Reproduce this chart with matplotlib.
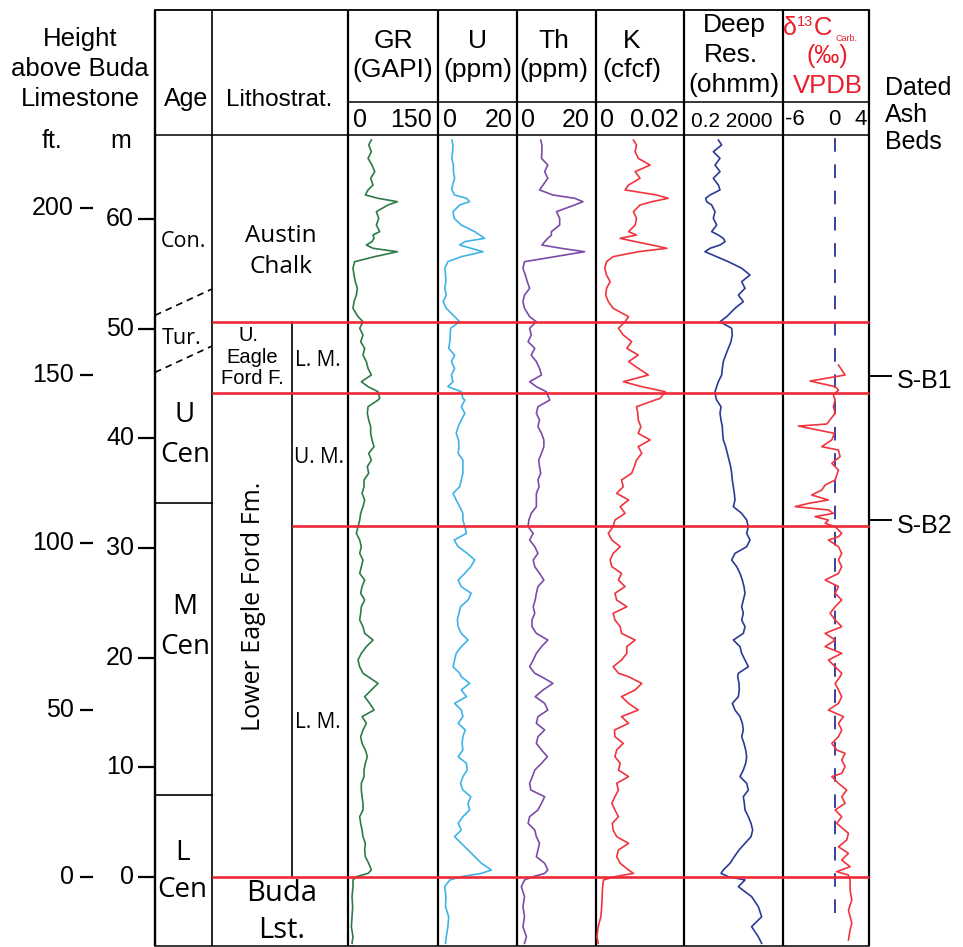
import matplotlib
matplotlib.use("Agg")
import matplotlib.pyplot as plt

# ---------------------------------------------------------------------------
# Log data: height above the Buda Limestone (m) and the curve values
# ---------------------------------------------------------------------------
depth_m = [
    67.18, 66.73, 66.12, 65.51, 64.90, 64.30, 63.69, 63.08, 62.63, 62.17,
    61.87, 61.56, 61.26, 60.65, 60.04, 59.43, 58.83, 58.52, 58.22, 57.92,
    57.61, 57.31, 57.00, 56.55, 56.09, 55.49, 54.88, 54.27, 53.66, 53.05,
    52.45, 51.84, 51.08, 50.62, 50.02, 49.41, 48.80, 48.19, 47.58, 46.98,
    46.37, 45.76, 45.15, 44.70, 44.24, 43.63,
    43.48, 42.87, 42.27, 41.66, 41.05, 40.44, 39.84, 39.23, 38.62, 38.01,
    37.40, 36.80, 36.19, 35.58, 34.97, 34.37, 33.76, 33.15, 32.54, 31.94,
    31.33, 30.72, 30.11, 29.50, 28.90, 28.29, 27.68, 27.07, 26.47, 25.86,
    25.25, 24.64, 24.04, 23.43, 22.82, 22.21, 21.60, 21.00, 20.39, 19.78,
    19.17, 18.57,
    18.26, 17.65, 17.05, 16.44, 15.83, 15.22, 14.62, 14.01, 13.40, 12.79,
    12.18, 11.58, 10.97, 10.36, 9.75, 9.15, 8.54, 7.93, 7.32, 6.72,
    6.11, 5.50, 4.89, 4.28, 3.68, 3.07, 2.46, 1.85, 1.25, 0.64,
    0.33, 0.03, -0.27, -0.88, -1.79, -2.70, -3.62, -4.53, -5.44, -6.05,
]

gr_gapi = [
    38.9, 34.5, 38.9, 33.4, 40.0, 44.5, 37.8, 41.7, 33.4, 28.9,
    50.0, 82.3, 66.7, 47.3, 51.2, 47.3, 52.8, 41.7, 43.4, 40.0,
    30.6, 41.7, 82.3, 44.5, 11.1, 8.3, 10.0, 12.2, 15.6, 13.9,
    10.0, 8.3, 16.7, 25.0, 19.5, 25.0, 21.1, 27.8, 25.0, 30.6,
    33.4, 38.9, 22.2, 33.4, 50.0, 52.8,
    50.0, 33.4, 32.2, 34.5, 37.8, 37.8, 40.0, 43.4, 34.5, 38.9,
    32.2, 34.5, 26.7, 26.7, 23.4, 27.8, 25.0, 21.1, 19.5, 16.7,
    13.9, 19.5, 22.2, 19.5, 25.0, 22.2, 19.5, 27.8, 23.4, 21.1,
    27.8, 22.2, 21.1, 19.5, 25.0, 27.8, 41.7, 30.6, 22.2, 16.7,
    19.5, 25.0,
    33.4, 50.0, 38.9, 27.8, 36.1, 43.4, 23.4, 30.6, 25.0, 21.1,
    23.4, 28.9, 32.2, 28.9, 26.7, 26.7, 22.2, 22.2, 23.4, 25.0,
    25.0, 19.5, 21.1, 23.4, 25.0, 28.9, 27.8, 28.9, 34.5, 38.9,
    33.4, 13.9, 8.3, 8.3, 6.7, 7.8, 6.7, 5.6, 8.3, 6.7,
]

u_ppm = [
    3.5, 3.8, 3.7, 3.5, 3.9, 3.9, 4.2, 3.7, 3.5, 4.2,
    7.2, 8.0, 5.5, 3.8, 4.1, 5.9, 9.3, 10.6, 11.8, 6.8,
    5.5, 8.4, 11.4, 5.9, 2.5, 1.7, 1.9, 2.0, 1.7, 2.1,
    1.3, 2.1, 4.2, 5.5, 3.2, 3.1, 3.0, 2.7, 4.2, 3.4,
    4.2, 3.4, 3.8, 2.5, 5.9, 6.3,
    6.8, 5.9, 6.8, 5.9, 5.1, 4.6, 5.2, 5.3, 5.1, 6.3,
    6.3, 6.3, 5.9, 5.5, 3.8, 4.6, 5.5, 6.3, 6.3, 6.8,
    7.2, 4.1, 5.1, 7.4, 9.3, 8.3, 6.8, 5.1, 5.9, 8.4,
    7.6, 5.7, 5.3, 4.9, 5.1, 5.9, 7.6, 5.9, 4.6, 4.2,
    3.8, 5.5,
    5.9, 8.0, 5.9, 7.2, 4.2, 5.9, 6.3, 5.1, 6.9, 6.3,
    6.1, 6.3, 5.1, 7.2, 7.4, 6.3, 5.7, 6.3, 8.3, 7.6,
    8.0, 6.3, 5.1, 5.9, 4.2, 5.9, 7.6, 9.3, 11.0, 13.5,
    11.0, 5.9, 3.0, 1.7, 2.0, 1.9, 2.7, 2.5, 2.1, 1.9,
]

th_ppm = [
    6.0, 6.3, 6.3, 6.2, 7.8, 7.0, 7.8, 6.6, 5.7, 9.1,
    14.6, 16.7, 14.6, 10.0, 10.8, 10.8, 8.7, 8.7, 7.8, 7.0,
    6.3, 11.2, 17.1, 9.5, 1.9, 1.5, 2.1, 2.6, 3.2, 1.9,
    1.5, 1.9, 3.2, 4.9, 3.2, 3.6, 2.8, 4.5, 3.6, 4.9,
    5.7, 6.2, 3.2, 4.9, 7.4, 8.1,
    8.3, 5.3, 4.9, 5.7, 5.3, 6.2, 6.8, 6.8, 6.2, 5.5,
    5.7, 6.0, 5.3, 5.6, 4.9, 4.9, 4.9, 3.6, 3.0, 2.8,
    4.1, 3.2, 4.5, 5.3, 4.1, 4.5, 5.7, 6.8, 5.3, 4.9,
    4.6, 4.1, 4.5, 3.8, 3.8, 4.9, 7.8, 6.2, 4.9, 4.1,
    3.2, 4.5,
    6.2, 9.1, 6.6, 4.6, 7.0, 7.8, 5.3, 4.9, 7.0, 5.3,
    4.9, 6.2, 7.7, 6.2, 4.5, 3.9, 3.2, 3.5, 7.0, 6.2,
    5.3, 3.2, 2.8, 4.5, 4.9, 5.7, 5.3, 4.9, 7.0, 7.8,
    7.0, 4.1, 1.9, 1.1, 1.9, 1.5, 1.9, 1.5, 2.4, 1.9,
]

k_cfcf = [
    0.0085, 0.0092, 0.0089, 0.0096, 0.0123, 0.0089, 0.0100, 0.0074, 0.0066, 0.0138,
    0.0164, 0.0127, 0.0100, 0.0085, 0.0092, 0.0089, 0.0074, 0.0092, 0.0055, 0.0089,
    0.0127, 0.0161, 0.0096, 0.0039, 0.0024, 0.0020, 0.0024, 0.0032, 0.0024, 0.0022,
    0.0028, 0.0039, 0.0074, 0.0066, 0.0051, 0.0062, 0.0081, 0.0070, 0.0096, 0.0074,
    0.0096, 0.0119, 0.0062, 0.0104, 0.0157, 0.0146,
    0.0134, 0.0092, 0.0095, 0.0096, 0.0102, 0.0096, 0.0123, 0.0096, 0.0104, 0.0092,
    0.0087, 0.0081, 0.0058, 0.0062, 0.0047, 0.0074, 0.0055, 0.0066, 0.0043, 0.0039,
    0.0028, 0.0036, 0.0055, 0.0039, 0.0032, 0.0036, 0.0058, 0.0051, 0.0066, 0.0043,
    0.0047, 0.0070, 0.0039, 0.0043, 0.0055, 0.0058, 0.0089, 0.0070, 0.0070, 0.0058,
    0.0039, 0.0051,
    0.0074, 0.0104, 0.0089, 0.0058, 0.0074, 0.0096, 0.0058, 0.0074, 0.0042, 0.0043,
    0.0062, 0.0047, 0.0043, 0.0055, 0.0051, 0.0074, 0.0047, 0.0051, 0.0043, 0.0036,
    0.0043, 0.0051, 0.0037, 0.0039, 0.0047, 0.0074, 0.0051, 0.0047, 0.0055, 0.0074,
    0.0085, 0.0043, 0.0017, 0.0015, 0.0014, 0.0013, 0.0011, 0.0005, 0.0002, 0.0005,
]

deep_res_ohmm = [
    4.88, 6.65, 3.06, 5.70, 3.58, 5.70, 3.06, 4.88, 5.70, 2.25,
    1.50, 1.65, 2.62, 3.58, 3.06, 4.18, 2.62, 4.88, 7.77, 9.08,
    5.70, 2.25, 1.41, 4.18, 12.4, 42.8, 92.8, 42.8, 58.3, 31.4,
    49.9, 23.0, 10.6, 5.70, 16.9, 17.9, 15.8, 12.4, 9.65, 7.77,
    7.08, 6.65, 4.88, 4.18, 3.58, 3.93,
    4.18, 6.25, 5.70, 6.25, 7.08, 7.30, 7.77, 9.65, 11.3, 13.2,
    15.4, 16.9, 17.9, 19.7, 21.6, 23.0, 19.7, 42.8, 68.1, 79.5,
    68.1, 92.8, 68.1, 23.0, 16.9, 26.9, 36.6, 45.5, 53.1, 58.3,
    49.9, 42.8, 49.9, 42.8, 58.3, 49.9, 19.7, 36.6, 42.8, 58.3,
    79.5, 31.4,
    29.5, 33.4, 34.2, 31.4, 17.9, 23.0, 36.6, 45.5, 49.9, 42.8,
    53.1, 62.1, 68.1, 62.1, 49.9, 36.6, 68.1, 79.5, 49.9, 54.8,
    58.3, 79.5, 102, 119, 102, 58.3, 33.4, 21.6, 14.5, 7.77,
    6.25, 12.4, 58.3, 31.4, 108, 201, 275, 108, 201, 275,
]

d13c_depth_m = [
    46.67, 45.76, 45.21, 44.70, 44.39, 43.94,
    43.48, 42.87, 42.27, 41.29, 41.11, 40.44, 39.84, 39.23, 38.92, 38.32,
    37.71, 37.10, 36.19, 35.73, 35.28, 34.82, 34.37, 34.06, 33.76, 33.46,
    33.15, 32.85, 32.54, 32.24, 31.94, 31.33, 31.02, 30.72, 30.11, 29.50,
    28.90, 28.29, 27.68, 27.07, 26.47, 25.86, 25.25, 24.64, 24.04, 23.43,
    22.82, 22.21, 21.60, 21.00, 20.39, 19.78, 19.17, 18.57,
    18.26, 17.65, 17.05, 16.44, 15.83, 15.22, 14.62, 14.01, 13.40, 12.79,
    12.18, 11.58, 11.27, 10.67, 10.06, 9.45, 9.15, 8.54, 7.93, 7.32,
    6.72, 6.11, 5.50, 4.89, 3.98, 3.37, 2.76, 2.16, 1.55, 0.94,
    0.49, 0.18, -0.27, -1.19, -2.10, -3.01, -4.22, -4.83, -5.74,
]

d13c_carb_permil = [
    0.45, 1.22, -2.85, 0.06, 0.45, -0.14,
    0.06, -0.14, 0.06, -0.91, -4.21, -0.02, -0.33, -1.49, 0.45, 0.64,
    -0.33, 0.45, 0.06, -1.10, -1.49, -2.66, -0.72, -3.04, -4.59, -0.72,
    -0.14, -2.27, -0.72, -1.10, 0.06, 0.83, 0.45, -0.72, 0.45, 0.83,
    0.45, 0.83, 0.45, -1.10, 0.45, 0.06, 0.83, 0.06, -0.52, 0.06,
    0.83, -1.10, 0.06, -1.10, 0.83, -0.72, 0.06, 0.83,
    0.64, 0.06, 0.45, 0.83, 0.45, -0.72, 1.03, 0.45, 0.83, 0.45,
    -0.33, 0.25, 1.22, 0.83, 1.22, 0.83, -0.33, 0.45, 1.41, 0.83,
    1.22, 0.06, 0.83, 0.25, 1.61, 1.41, 0.45, 1.61, 0.83, 1.80,
    0.25, 1.61, 1.80, 1.80, 2.00, 1.61, 2.00, 1.80, 1.61,
]

# Stratigraphic surfaces (m above the Buda)
formation_tops = [50.6, 44.1, 32.0, 0.0]
age_boundaries = [34.1, 7.5]
uncertain_age_boundaries = [(51.2, 53.6), (46.0, 48.4)]
ash_bed_names = ["S-B1", "S-B2"]
ash_bed_heights = [45.7, 32.5]
d13c_zero_range = (-3.3, 67.5)

meter_ticks = [0, 10, 20, 30, 40, 50, 60]
feet_ticks = [0, 50, 100, 150, 200]
FT_TO_M = 0.3048

# ---------------------------------------------------------------------------
# Figure geometry (pixels)
# ---------------------------------------------------------------------------
W, H, DPI = 963, 947, 100
TOP, BOT = 135, 946
Y0, PX_PER_M = 877, 10.97
Y_MAX = (Y0 - TOP) / PX_PER_M
Y_MIN = (Y0 - BOT) / PX_PER_M

BOX_L, AGE_R, LITHO_MID, LITHO_R = 155, 212, 292, 348
TRACKS = [348, 438, 517, 596, 684, 783, 869]
BOX_R = TRACKS[-1]

SANS = ["Liberation Sans", "DejaVu Sans"]
NARROW = ["Liberation Sans Narrow", "Liberation Sans", "DejaVu Sans"]
OPEN = ["Open Sans", "DejaVu Sans"]
RED = "#ee2a36"
TXT_RED = "#ea1f2b"

fig = plt.figure(figsize=(W / DPI, H / DPI), dpi=DPI)
fig.patch.set_facecolor("white")

frame = fig.add_axes([0, 0, 1, 1])
frame.set_xlim(0, W)
frame.set_ylim(H, 0)
frame.axis("off")


def depth_axes(x0, x1):
    ax = fig.add_axes([x0 / W, (H - BOT) / H, (x1 - x0) / W, (BOT - TOP) / H])
    ax.set_ylim(Y_MIN, Y_MAX)
    ax.axis("off")
    return ax


def txt(x, y, s, size, family=SANS, ha="center", va="center", **kw):
    frame.text(x, y, s, fontsize=size, family=family, ha=ha, va=va, **kw)


# ---- table frame --------------------------------------------------------
for x, lw in [(BOX_L, 1.7), (AGE_R, 1.2)] + [(t, 1.6) for t in TRACKS]:
    frame.plot([x, x], [10, BOT], color="black", lw=lw, solid_capstyle="butt")
frame.plot([BOX_L, BOX_R], [10, 10], color="black", lw=1.3)
frame.plot([LITHO_R, BOX_R], [102, 102], color="black", lw=1.1)
frame.plot([BOX_L, BOX_R], [TOP, TOP], color="black", lw=1.1)
frame.plot([BOX_L, BOX_R], [BOT, BOT], color="black", lw=1.1)

# ---- left-hand header ---------------------------------------------------
txt(80, 39, "Height", 18.5)
txt(80, 69, "above Buda", 18.5)
txt(80, 99, "Limestone", 18.5)
txt(52, 141, "ft.", 18)
txt(121, 141, "m", 18)
txt(186, 99, "Age", 18, family=NARROW)
txt(279, 100, "Lithostrat.", 17.5)

# ---- track headers ------------------------------------------------------
txt(393, 41, "GR", 19)
txt(393, 70, "(GAPI)", 19)
txt(478, 41, "U", 19)
txt(478, 70, "(ppm)", 19)
txt(554, 41, "Th", 19)
txt(554, 70, "(ppm)", 19)
txt(632, 41, "K", 19)
txt(632, 70, "(cfcf)", 19)
txt(734, 25, "Deep", 19)
txt(731, 55, "Res.", 19)
txt(734, 85, "(ohmm)", 19)

txt(783, 28, "\u03b4", 18, ha="left", color=TXT_RED)
txt(797, 22, "13", 10.5, ha="left", color=TXT_RED)
txt(814, 28, "C", 18.5, ha="left", color=TXT_RED)
txt(835, 38, "Carb.", 6.5, ha="left", color=TXT_RED)
txt(827, 56, "(\u2030)", 18, color=TXT_RED)
txt(828, 86, "VPDB", 18.5, color=TXT_RED)

# scale row
SCALE_Y = 120
txt(353, SCALE_Y, "0", 18, ha="left")
txt(432, SCALE_Y, "150", 18, ha="right")
txt(443, SCALE_Y, "0", 18, ha="left")
txt(513, SCALE_Y, "20", 18, ha="right")
txt(521, SCALE_Y, "0", 18, ha="left")
txt(590, SCALE_Y, "20", 18, ha="right")
txt(600, SCALE_Y, "0", 18, ha="left")
txt(679, SCALE_Y, "0.02", 18, ha="right")
txt(732, SCALE_Y + 1, "0.2 2000", 15)
txt(785, SCALE_Y - 1, "-6", 16, ha="left")
txt(834, SCALE_Y - 1, "0", 16)
txt(867, SCALE_Y - 1, "4", 16, ha="right")

txt(885, 88, "Dated", 18, ha="left")
txt(885, 115, "Ash", 18, ha="left")
txt(885, 142, "Beds", 18, ha="left")

# ---- age and lithostratigraphy labels ----------------------------------
txt(183, 241, "Con.", 15.5, family=OPEN)
txt(182, 338, "Tur.", 15.5, family=OPEN)
txt(185, 415, "U", 20, family=OPEN)
txt(185, 455, "Cen", 20, family=OPEN)
txt(185, 607, "M", 20, family=OPEN)
txt(185, 647, "Cen", 20, family=OPEN)
txt(182, 853, "L", 20, family=OPEN)
txt(182, 890, "Cen", 20, family=OPEN)

txt(281, 236, "Austin", 17.5, family=OPEN)
txt(281, 267, "Chalk", 17.5, family=OPEN)
txt(249, 335, "U.", 14.5)
txt(252, 357, "Eagle", 14.5)
txt(252, 378, "Ford F.", 14.5)
txt(318, 360, "L. M.", 15, family=OPEN)
txt(319, 457, "U. M.", 15, family=OPEN)
txt(318, 722, "L. M.", 15, family=OPEN)
txt(253, 606, "Lower Eagle Ford Fm.", 18, family=OPEN, rotation=90)
txt(282, 893, "Buda", 21, family=OPEN)
txt(282, 930, "Lst.", 21, family=OPEN)

# ---- height scales ------------------------------------------------------
scale_ax = depth_axes(0, BOX_L)
scale_ax.set_xlim(0, BOX_L)
for m in meter_ticks:
    scale_ax.plot([138, BOX_L], [m, m], color="black", lw=1.6, solid_capstyle="butt")
    scale_ax.text(134, m, str(m), ha="right", va="center", fontsize=18, family=SANS)
for ft in feet_ticks:
    h = ft * FT_TO_M
    scale_ax.plot([80, 93], [h, h], color="black", lw=1.6, solid_capstyle="butt")
    scale_ax.text(74, h, str(ft), ha="right", va="center", fontsize=18, family=SANS)

# ---- log tracks ---------------------------------------------------------
LW = 1.2
ax_gr = depth_axes(TRACKS[0], TRACKS[1])
ax_gr.set_xlim(0, 150)
ax_gr.plot(gr_gapi, depth_m, color="#2e7a48", lw=LW)

ax_u = depth_axes(TRACKS[1], TRACKS[2])
ax_u.set_xlim(0, 20)
ax_u.plot(u_ppm, depth_m, color="#3fb3e8", lw=LW)

ax_th = depth_axes(TRACKS[2], TRACKS[3])
ax_th.set_xlim(0, 20)
ax_th.plot(th_ppm, depth_m, color="#7b4ba8", lw=LW)

ax_k = depth_axes(TRACKS[3], TRACKS[4])
ax_k.set_xlim(0, 0.02)
ax_k.plot(k_cfcf, depth_m, color="#f0343e", lw=LW)

ax_res = depth_axes(TRACKS[4], TRACKS[5])
ax_res.set_xscale("log")
ax_res.set_xlim(0.2, 2000)
ax_res.axis("off")
ax_res.plot(deep_res_ohmm, depth_m, color="#2b3a94", lw=LW)

ax_c = depth_axes(TRACKS[5], TRACKS[6])
ax_c.set_xlim(-6, 4)
ax_c.plot([0, 0], list(d13c_zero_range), color="#3a3f9e", lw=1.4,
          linestyle=(0, (7, 6.5)))
ax_c.plot(d13c_carb_permil, d13c_depth_m, color="#f0343e", lw=LW)

# ---- stratigraphic surfaces --------------------------------------------
strat = depth_axes(BOX_L, W)
strat.set_xlim(BOX_L, W)
for h in age_boundaries:
    strat.plot([BOX_L, AGE_R], [h, h], color="black", lw=1.2)
for lo, hi in uncertain_age_boundaries:
    strat.plot([BOX_L, AGE_R], [lo, hi], color="black", lw=1.2,
               linestyle=(0, (4, 3)))
strat.plot([LITHO_MID, LITHO_MID], [formation_tops[-1], formation_tops[0]],
           color="black", lw=1.2)
for h in formation_tops:
    x0 = LITHO_MID if h == 32.0 else AGE_R
    strat.plot([x0, BOX_R], [h, h], color=RED, lw=1.9, solid_capstyle="butt")
for name, h in zip(ash_bed_names, ash_bed_heights):
    strat.plot([BOX_R, 891], [h, h], color="black", lw=1.4)
    strat.text(897, h - 0.5, name, ha="left", va="center", fontsize=18,
               family=SANS)

fig.savefig("out.png", dpi=DPI, facecolor="white")
